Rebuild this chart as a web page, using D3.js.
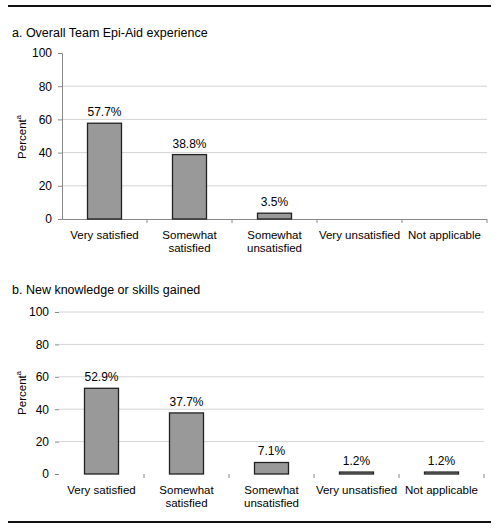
<!DOCTYPE html>
<html><head><meta charset="utf-8">
<script src="https://cdn.jsdelivr.net/npm/d3@7"></script>
<style>body{margin:0;background:#fff}text{font-family:"Liberation Sans",Arial,sans-serif}</style>
</head><body><svg id="c" width="498" height="529"></svg>
<script>
const categories = [["Very satisfied"],["Somewhat","satisfied"],["Somewhat","unsatisfied"],["Very unsatisfied"],["Not applicable"]];
const catKeys = ["Very satisfied","Somewhat satisfied","Somewhat unsatisfied","Very unsatisfied","Not applicable"];
const valuesA = [57.7, 38.8, 3.5, null, null];
const valuesB = [52.9, 37.7, 7.1, 1.2, 1.2];
const yTicks = [0,20,40,60,80,100];
const titleA = "a. Overall Team Epi-Aid experience";
const titleB = "b. New knowledge or skills gained";
const FS = 11.5;

const svg = d3.select("#c");
svg.append("line").attr("x1",8).attr("x2",491).attr("y1",6).attr("y2",6).attr("stroke","#111").attr("stroke-width",2);
svg.append("line").attr("x1",8).attr("x2",491).attr("y1",522).attr("y2",522).attr("stroke","#111").attr("stroke-width",2);

function panel(cfg){
  const g = svg.append("g");
  g.append("text").attr("x",12).attr("y",cfg.titleY).attr("font-size",12.5).attr("fill","#000").text(cfg.title);
  const x = d3.scaleBand().domain(catKeys).range([cfg.x0,cfg.x1]);
  const y = d3.scaleLinear().domain([0,100]).range([cfg.y0,cfg.y1]);
  g.selectAll(".grid").data(cfg.grid).enter().append("line")
    .attr("x1",cfg.x0).attr("x2",cfg.x1).attr("y1",d=>y(d)).attr("y2",d=>y(d))
    .attr("stroke","#d4d4d4").attr("stroke-width",1);
  const ya = g.append("g").attr("transform",`translate(${cfg.x0},0)`).call(d3.axisLeft(y).tickValues(yTicks).tickSize(4).tickPadding(6));
  ya.select(".domain").attr("stroke",cfg.yDomain?"#888":"none");
  ya.selectAll(".tick line").attr("stroke","#888");
  ya.selectAll("text").attr("font-size",12).attr("fill","#000").attr("font-family","Liberation Sans, Arial, sans-serif");
  if(cfg.xDomain){
    g.append("line").attr("x1",cfg.x0).attr("x2",cfg.x1).attr("y1",cfg.y0+0.5).attr("y2",cfg.y0+0.5).attr("stroke","#888");
  }
  const bounds = catKeys.map(k=>x(k)).concat([cfg.x1]);
  g.selectAll(".bt").data(bounds.slice(1)).enter().append("line")
    .attr("x1",d=>d).attr("x2",d=>d).attr("y1",cfg.y0).attr("y2",cfg.y0+4).attr("stroke","#888");
  const data = catKeys.map((k,i)=>({k,v:cfg.values[i]})).filter(d=>d.v!=null);
  const bw = 34;
  g.selectAll(".bar").data(data).enter().append("rect")
    .attr("x",d=>x(d.k)+x.bandwidth()/2-bw/2).attr("width",bw)
    .attr("y",d=>y(d.v)).attr("height",d=>Math.max(cfg.y0-y(d.v),1))
    .attr("fill","#999").attr("stroke","#222").attr("stroke-width",1.3);
  g.selectAll(".val").data(data).enter().append("text")
    .attr("x",d=>x(d.k)+x.bandwidth()/2).attr("y",d=>y(d.v)-7)
    .attr("text-anchor","middle").attr("font-size",FS+0.5).attr("fill","#000").text(d=>d.v.toFixed(1)+"%");
  categories.forEach((lines,i)=>{
    const t = g.append("text").attr("x",x(catKeys[i])+x.bandwidth()/2).attr("y",cfg.y0+20)
      .attr("text-anchor","middle").attr("font-size",FS).attr("fill","#000");
    lines.forEach((l,j)=>t.append("tspan").attr("x",x(catKeys[i])+x.bandwidth()/2).attr("dy",j?13:0).text(l));
  });
  const yl = g.append("text").attr("transform",`translate(26,${cfg.labelY}) rotate(-90)`)
    .attr("text-anchor","middle").attr("font-size",FS).attr("fill","#000");
  yl.append("tspan").text("Percent");
  yl.append("tspan").attr("font-size",7.5).attr("dy",-5).text("a");
}

panel({title:titleA,titleY:37,x0:62,x1:487,y0:219,y1:53,values:valuesA,grid:[20,40,60,80],yDomain:true,xDomain:true,labelY:137});
panel({title:titleB,titleY:294,x0:59,x1:484,y0:474,y1:312,values:valuesB,grid:[20,40,60,80,100],yDomain:false,xDomain:false,labelY:393});
</script></body></html>
